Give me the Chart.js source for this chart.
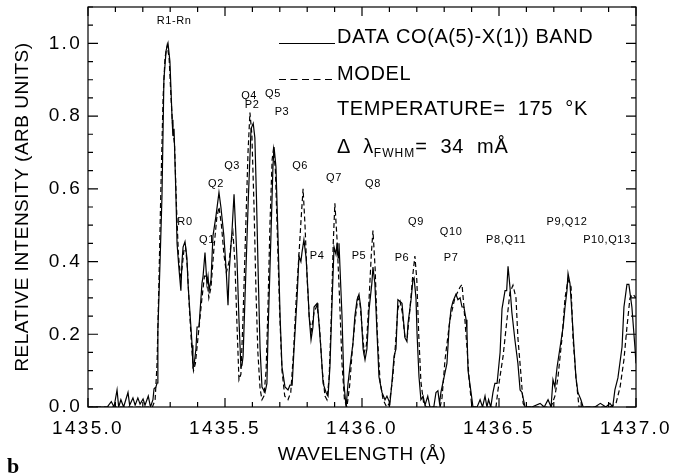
<!DOCTYPE html>
<html><head><meta charset="utf-8">
<script src="https://cdn.jsdelivr.net/npm/chart.js@4"></script>
<style>html,body{margin:0;padding:0;background:#fff}#c{display:block}</style>
</head><body>
<canvas id="c" width="673" height="474" style="width:673px;height:474px"></canvas>
<script>
// ---- data (wavelength in Å, relative intensity) ----
const dataSpectrum = [
[1435.000,0],[1435.070,0],[1435.085,0.015],[1435.095,0],[1435.106,0.047],[1435.112,0],[1435.120,0.02],[1435.130,0],
[1435.146,0.04],[1435.152,0.005],[1435.164,0.025],[1435.172,0.005],[1435.182,0.025],[1435.190,0.008],[1435.201,0.022],
[1435.208,0.005],[1435.220,0.03],[1435.228,0],[1435.237,0.02],[1435.241,0.05],[1435.248,0.055],[1435.252,0.066],
[1435.255,0.21],[1435.263,0.40],[1435.270,0.58],[1435.277,0.90],[1435.285,0.98],[1435.292,1.00],[1435.299,0.95],
[1435.307,0.79],[1435.310,0.745],[1435.314,0.765],[1435.321,0.58],[1435.325,0.45],[1435.332,0.38],[1435.339,0.32],
[1435.343,0.40],[1435.347,0.44],[1435.354,0.455],[1435.361,0.41],[1435.365,0.34],[1435.372,0.26],[1435.380,0.17],
[1435.383,0.11],[1435.387,0.115],[1435.394,0.16],[1435.398,0.22],[1435.405,0.22],[1435.416,0.34],[1435.420,0.36],
[1435.427,0.425],[1435.434,0.34],[1435.438,0.36],[1435.442,0.32],[1435.449,0.35],[1435.456,0.47],[1435.467,0.525],
[1435.478,0.59],[1435.485,0.55],[1435.496,0.47],[1435.504,0.38],[1435.511,0.28],[1435.515,0.37],[1435.526,0.49],
[1435.533,0.585],[1435.540,0.47],[1435.544,0.40],[1435.551,0.24],[1435.558,0.11],[1435.562,0.115],[1435.566,0.14],
[1435.573,0.30],[1435.585,0.57],[1435.595,0.765],[1435.603,0.78],[1435.609,0.74],[1435.615,0.57],[1435.622,0.34],
[1435.628,0.16],[1435.635,0.055],[1435.646,0.04],[1435.653,0.065],[1435.657,0.20],[1435.668,0.48],[1435.675,0.66],
[1435.679,0.715],[1435.686,0.66],[1435.693,0.48],[1435.701,0.25],[1435.708,0.11],[1435.719,0.055],[1435.730,0.047],
[1435.737,0.06],[1435.745,0.06],[1435.752,0.16],[1435.763,0.30],[1435.770,0.415],[1435.777,0.40],[1435.781,0.425],
[1435.788,0.46],[1435.796,0.41],[1435.803,0.315],[1435.807,0.25],[1435.814,0.185],[1435.821,0.22],[1435.825,0.275],
[1435.836,0.285],[1435.839,0.27],[1435.850,0.16],[1435.858,0.065],[1435.869,0.04],[1435.876,0.03],[1435.883,0.11],
[1435.891,0.295],[1435.898,0.44],[1435.905,0.42],[1435.909,0.45],[1435.913,0.41],[1435.916,0.45],[1435.927,0.25],
[1435.934,0.065],[1435.942,0],[1435.949,0.065],[1435.956,0.11],[1435.967,0.175],[1435.974,0.25],[1435.982,0.295],
[1435.989,0.31],[1435.996,0.27],[1436.004,0.16],[1436.011,0.13],[1436.018,0.16],[1436.026,0.27],[1436.036,0.34],
[1436.040,0.385],[1436.047,0.34],[1436.055,0.20],[1436.062,0.083],[1436.073,0.04],[1436.084,0.02],[1436.091,0.03],
[1436.102,0.01],[1436.109,0.065],[1436.117,0.14],[1436.124,0.16],[1436.131,0.295],[1436.139,0.29],[1436.146,0.285],
[1436.150,0.25],[1436.157,0.19],[1436.164,0.18],[1436.168,0.23],[1436.179,0.295],[1436.186,0.35],[1436.190,0.355],
[1436.197,0.30],[1436.201,0.20],[1436.208,0.083],[1436.215,0.02],[1436.223,0.03],[1436.230,0.005],[1436.240,0.03],
[1436.248,0],[1436.262,0],[1436.270,0.04],[1436.277,0.045],[1436.283,0.01],[1436.288,0.04],[1436.299,0.08],
[1436.310,0.12],[1436.318,0.22],[1436.325,0.27],[1436.332,0.29],[1436.343,0.31],[1436.350,0.295],[1436.358,0.30],
[1436.365,0.275],[1436.372,0.275],[1436.380,0.24],[1436.383,0.21],[1436.387,0.10],[1436.398,0.04],[1436.405,0],
[1436.420,0],[1436.431,0.02],[1436.440,0],[1436.449,0.03],[1436.456,0],[1436.462,0.02],[1436.470,0],[1436.478,0.04],
[1436.485,0.065],[1436.493,0.065],[1436.504,0.15],[1436.511,0.27],[1436.522,0.32],[1436.528,0.32],[1436.533,0.387],
[1436.540,0.33],[1436.547,0.26],[1436.558,0.185],[1436.569,0.12],[1436.577,0.047],[1436.584,0.04],[1436.595,0],
[1436.620,0],[1436.650,0.01],[1436.665,0],[1436.679,0.02],[1436.690,0],[1436.697,0.075],[1436.704,0.055],
[1436.712,0.11],[1436.723,0.165],[1436.734,0.22],[1436.741,0.275],[1436.748,0.32],[1436.752,0.367],[1436.759,0.34],
[1436.766,0.26],[1436.774,0.16],[1436.781,0.08],[1436.788,0.04],[1436.799,0.02],[1436.807,0],[1436.850,0],
[1436.870,0.01],[1436.890,0],[1436.905,0.01],[1436.915,0],[1436.923,0.047],[1436.934,0.08],[1436.949,0.165],
[1436.956,0.275],[1436.967,0.337],[1436.974,0.337],[1436.985,0.275],[1436.996,0.165],[1437.000,0.12]
];
const modelSpectrum = [
[1435.000,0],[1435.235,0],[1435.245,0.02],[1435.252,0.12],[1435.259,0.35],[1435.266,0.60],[1435.274,0.85],
[1435.281,0.96],[1435.289,0.995],[1435.296,0.96],[1435.303,0.85],[1435.310,0.76],[1435.316,0.72],[1435.323,0.55],
[1435.330,0.42],[1435.337,0.36],[1435.343,0.38],[1435.350,0.43],[1435.356,0.44],[1435.363,0.38],[1435.370,0.27],
[1435.378,0.17],[1435.385,0.10],[1435.392,0.12],[1435.400,0.18],[1435.408,0.24],[1435.416,0.30],[1435.425,0.36],
[1435.433,0.36],[1435.441,0.30],[1435.449,0.33],[1435.460,0.44],[1435.470,0.52],[1435.478,0.55],[1435.487,0.50],
[1435.496,0.42],[1435.505,0.37],[1435.515,0.40],[1435.522,0.45],[1435.529,0.48],[1435.536,0.40],[1435.544,0.22],
[1435.551,0.075],[1435.558,0.09],[1435.566,0.25],[1435.576,0.50],[1435.584,0.70],[1435.591,0.81],[1435.598,0.75],
[1435.606,0.55],[1435.613,0.32],[1435.620,0.15],[1435.628,0.05],[1435.635,0.02],[1435.642,0.03],[1435.650,0.10],
[1435.657,0.28],[1435.664,0.50],[1435.672,0.68],[1435.677,0.71],[1435.684,0.65],[1435.692,0.45],[1435.700,0.25],
[1435.708,0.10],[1435.718,0.03],[1435.730,0.02],[1435.740,0.04],[1435.750,0.15],[1435.760,0.30],[1435.770,0.42],
[1435.778,0.52],[1435.785,0.60],[1435.792,0.50],[1435.800,0.35],[1435.808,0.24],[1435.815,0.21],[1435.825,0.26],
[1435.836,0.28],[1435.845,0.22],[1435.855,0.10],[1435.865,0.03],[1435.872,0.02],[1435.880,0.08],[1435.888,0.25],
[1435.895,0.45],[1435.901,0.56],[1435.909,0.46],[1435.918,0.30],[1435.927,0.12],[1435.936,0.02],[1435.945,0],
[1435.955,0.06],[1435.965,0.16],[1435.975,0.24],[1435.985,0.30],[1435.992,0.29],[1436.000,0.22],[1436.008,0.15],
[1436.016,0.17],[1436.026,0.30],[1436.034,0.42],[1436.040,0.485],[1436.048,0.38],[1436.056,0.20],[1436.066,0.07],
[1436.077,0.02],[1436.090,0],[1436.100,0.01],[1436.112,0.08],[1436.122,0.17],[1436.131,0.27],[1436.139,0.29],
[1436.147,0.26],[1436.157,0.19],[1436.165,0.19],[1436.175,0.27],[1436.185,0.36],[1436.193,0.415],[1436.200,0.35],
[1436.207,0.20],[1436.215,0.07],[1436.225,0.01],[1436.235,0],[1436.285,0],[1436.292,0.025],[1436.303,0.13],
[1436.321,0.24],[1436.339,0.30],[1436.358,0.33],[1436.365,0.337],[1436.372,0.275],[1436.383,0.165],[1436.391,0.075],
[1436.401,0],[1436.489,0],[1436.496,0.045],[1436.515,0.14],[1436.529,0.24],[1436.540,0.315],[1436.551,0.335],
[1436.562,0.30],[1436.569,0.19],[1436.580,0.09],[1436.588,0.01],[1436.595,0],[1436.690,0],[1436.704,0.03],
[1436.715,0.08],[1436.730,0.19],[1436.741,0.30],[1436.752,0.35],[1436.763,0.33],[1436.770,0.19],[1436.781,0.08],
[1436.792,0],[1436.905,0],[1436.927,0.01],[1436.942,0.055],[1436.956,0.13],[1436.967,0.22],[1436.978,0.30],
[1436.989,0.31],[1437.000,0.30]
];
// ---- axes ----
const xTickValues = [1435.0, 1435.5, 1436.0, 1436.5, 1437.0];
const xTickLabels = ['1435.0', '1435.5', '1436.0', '1436.5', '1437.0'];
const yTickValues = [0.0, 0.2, 0.4, 0.6, 0.8, 1.0];
const yTickLabels = ['0.0', '0.2', '0.4', '0.6', '0.8', '1.0'];
// ---- line identifications (text, wavelength, height) ----
const lineLabelText = ['R1-Rn','R0','Q1','Q2','Q3','Q4','P2','Q5','P3','Q6','P4','Q7','P5','Q8','P6','Q9','Q10','P7','P8,Q11','P9,Q12','P10,Q13'];
const lineLabelWavelength = [1435.314,1435.354,1435.434,1435.467,1435.526,1435.588,1435.599,1435.675,1435.708,1435.774,1435.836,1435.898,1435.989,1436.040,1436.146,1436.197,1436.325,1436.325,1436.526,1436.748,1436.894];
const lineLabelLevel = [1.061,0.510,0.460,0.612,0.662,0.855,0.830,0.860,0.811,0.662,0.414,0.631,0.414,0.612,0.411,0.510,0.482,0.411,0.460,0.510,0.460];

const FONT = '"Liberation Sans", Arial, sans-serif';

const xMinor = []; for (let i = 0; i <= 20; i++) xMinor.push(1435 + i * 0.1);
const yMinor = []; for (let i = 0; i <= 22; i++) yMinor.push(i * 0.05);

const spacingPlugin = {
  id: 'spacing',
  beforeDraw(chart) { chart.ctx.letterSpacing = '0.5px'; },
  afterDatasetsDraw(chart) { chart.ctx.letterSpacing = '2.3px'; }
};

const framePlugin = {
  id: 'frame',
  afterDraw(chart) {
    const ctx = chart.ctx;
    const {left, right, top, bottom} = chart.chartArea;
    const xs = chart.scales.x, ys = chart.scales.y;
    ctx.save();
    ctx.letterSpacing = '0px';
    ctx.strokeStyle = '#000';
    ctx.lineWidth = 1.2;
    ctx.setLineDash([]);
    ctx.strokeRect(left, top, right - left, bottom - top);
    ctx.beginPath();
    xMinor.forEach((v, i) => {
      const px = xs.getPixelForValue(v);
      const L = (i % 5 === 0) ? 9 : 5;
      ctx.moveTo(px, bottom); ctx.lineTo(px, bottom - L);
      ctx.moveTo(px, top); ctx.lineTo(px, top + L);
    });
    yMinor.forEach((v, i) => {
      const py = ys.getPixelForValue(v);
      const L = (i % 4 === 0) ? 10 : 5;
      ctx.moveTo(left, py); ctx.lineTo(left + L, py);
      ctx.moveTo(right, py); ctx.lineTo(right - L, py);
    });
    ctx.stroke();

    // line identification labels
    ctx.fillStyle = '#000';
    ctx.font = '11px ' + FONT;
    ctx.letterSpacing = '0.6px';
    ctx.textAlign = 'center';
    ctx.textBaseline = 'middle';
    lineLabelText.forEach((t, i) => {
      ctx.fillText(t, xs.getPixelForValue(lineLabelWavelength[i]), ys.getPixelForValue(lineLabelLevel[i]));
    });

    // legend / annotation block
    ctx.textAlign = 'left';
    ctx.textBaseline = 'alphabetic';
    ctx.font = '20px ' + FONT;
    ctx.letterSpacing = '0.6px';
    ctx.lineWidth = 1.2;
    ctx.beginPath(); ctx.moveTo(279, 43.5); ctx.lineTo(335, 43.5); ctx.stroke();
    ctx.fillText('DATA CO(A(5)-X(1)) BAND', 337, 43);
    ctx.setLineDash([7, 4.5]);
    ctx.beginPath(); ctx.moveTo(279, 79.5); ctx.lineTo(334, 79.5); ctx.stroke();
    ctx.setLineDash([]);
    ctx.fillText('MODEL', 337, 80);
    ctx.fillText('TEMPERATURE=  175  \u00B0K', 337, 115);
    let x0 = 337;
    ctx.fillText('\u0394  \u03BB', x0, 153);
    x0 += ctx.measureText('\u0394  \u03BB').width;
    ctx.font = '12px ' + FONT;
    ctx.letterSpacing = '1px';
    ctx.fillText('FWHM', x0, 157);
    x0 += ctx.measureText('FWHM').width;
    ctx.font = '20px ' + FONT;
    ctx.letterSpacing = '0.8px';
    ctx.fillText('=  34  m\u00C5', x0, 153);

    // panel letter
    ctx.letterSpacing = '0px';
    ctx.font = 'bold 22px "Liberation Serif", "DejaVu Serif", serif';
    ctx.fillText('b', 7, 473);
    ctx.restore();
  }
};

new Chart(document.getElementById('c'), {
  type: 'line',
  data: {
    datasets: [
      { label: 'DATA', data: dataSpectrum.map(p => ({x: p[0], y: p[1]})), borderColor: '#000', borderWidth: 1.2,
        pointRadius: 0, tension: 0, fill: false },
      { label: 'MODEL', data: modelSpectrum.map(p => ({x: p[0], y: p[1]})), borderColor: '#000', borderWidth: 1.2,
        borderDash: [5, 3], pointRadius: 0, tension: 0, fill: false }
    ]
  },
  options: {
    responsive: false, animation: false, devicePixelRatio: 1,
    layout: { padding: { left: 0, right: 37, top: 7, bottom: 0 } },
    plugins: { legend: { display: false }, tooltip: { enabled: false } },
    scales: {
      x: {
        type: 'linear', min: 1435.0, max: 1437.0,
        afterBuildTicks: s => { s.ticks = xTickValues.map(v => ({ value: v })); },
        afterFit: s => { s.height = 67; s.paddingLeft = 0; s.paddingRight = 0; },
        grid: { display: false, drawTicks: false }, border: { display: false },
        ticks: { z: 1, color: '#000', font: { family: FONT, size: 19 }, padding: 10, maxRotation: 0, minRotation: 0,
                 autoSkip: false, callback: (v, i) => xTickLabels[i] },
        title: { display: true, text: 'WAVELENGTH (\u00C5)', color: '#000', font: { family: FONT, size: 19 },
                 padding: { top: 0, bottom: 8 } }
      },
      y: {
        type: 'linear', min: 0, max: 1.1,
        afterBuildTicks: s => { s.ticks = yTickValues.map(v => ({ value: v })); },
        afterFit: s => { s.width = 88; s.paddingTop = 0; s.paddingBottom = 0; },
        grid: { display: false, drawTicks: false }, border: { display: false },
        ticks: { z: 1, color: '#000', font: { family: FONT, size: 19 }, padding: 6,
                 callback: (v, i) => yTickLabels[i] },
        title: { display: true, text: 'RELATIVE INTENSITY (ARB UNITS)', color: '#000', font: { family: FONT, size: 19 },
                 padding: { top: 11, bottom: 0 } }
      }
    }
  },
  plugins: [spacingPlugin, framePlugin]
});
</script>
</body></html>
